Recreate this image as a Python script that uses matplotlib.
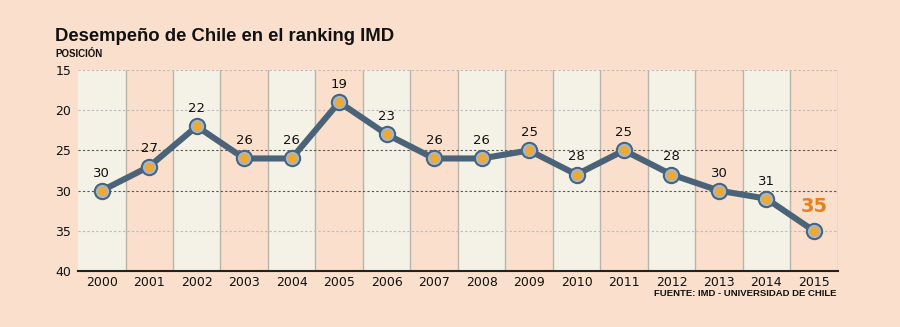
import numpy as np
import matplotlib.pyplot as plt

# Datos del ranking IMD (posición de Chile)
anios = ['2000', '2001', '2002', '2003', '2004', '2005', '2006', '2007',
         '2008', '2009', '2010', '2011', '2012', '2013', '2014', '2015']
posicion = [30, 27, 22, 26, 26, 19, 23, 26, 26, 25, 28, 25, 28, 30, 31, 35]
y_ticks = [15, 20, 25, 30, 35, 40]

fondo = '#f9dfcc'
crema = '#f4f2e7'
azul = '#4b6379'

fig = plt.figure(figsize=(9, 3.27), dpi=100, facecolor=fondo)
ax = fig.add_axes([0.0867, 0.171, 0.844, 0.615], facecolor=fondo)

x = np.arange(len(anios))

# Bandas alternas y separadores verticales
for i in x:
    if i % 2 == 0:
        ax.axvspan(i - 0.5, i + 0.5, color=crema, zorder=0, lw=0)
    ax.axvline(i + 0.5, color='#b9b4ab', lw=1, zorder=1)

# Lineas de grilla punteadas
for t in y_ticks[:-1]:
    oscura = t in (25, 30)
    ax.axhline(t, color='#555555' if oscura else '#bbbbbb', lw=0.8,
               ls=(0, (2, 2)), zorder=1)

# Linea y marcadores
ax.plot(x, posicion, color=azul, lw=4.4, zorder=3, solid_joinstyle='round')
ax.plot(x, posicion, 'o', ms=11.5, color=azul, zorder=4)
ax.plot(x, posicion, 'o', ms=8.5, color='#a3b8cd', zorder=5)
ax.plot(x, posicion, 'o', ms=5.5, color='#f0a92c', zorder=6)

# Etiquetas de valores
for xi, v in zip(x[:-1], posicion[:-1]):
    ax.annotate(str(v), (xi, v), xytext=(0, 8), textcoords='offset points',
                ha='center', va='bottom', fontsize=9.5, color='#111111', zorder=7)
ax.annotate(str(posicion[-1]), (x[-1], posicion[-1]), xytext=(0, 11),
            textcoords='offset points', ha='center', va='bottom',
            fontsize=14, fontweight='bold', color='#e8801f', zorder=7)

ax.set_xlim(-0.5, len(anios) - 0.5)
ax.set_ylim(40, 15)
ax.set_yticks(y_ticks)
ax.set_xticks(x)
ax.set_xticklabels(anios)
ax.tick_params(axis='both', length=0, labelsize=9, colors='#111111')
ax.tick_params(axis='x', pad=3.5)
ax.tick_params(axis='y', pad=5)

for lado in ['top', 'left', 'right']:
    ax.spines[lado].set_visible(False)
ax.spines['bottom'].set_color('#222222')
ax.spines['bottom'].set_linewidth(1.5)

fig.text(0.061, 0.887, 'Desempeño de Chile en el ranking IMD', fontsize=13.3,
         fontweight='bold', color='#111111', va='center',
         family=['Liberation Sans', 'DejaVu Sans'])
fig.text(0.061, 0.835, 'POSICIÓN', fontsize=7, fontweight='bold',
         color='#111111', va='center', family=['Liberation Sans', 'DejaVu Sans'])
fig.text(0.93, 0.103, 'FUENTE: IMD - UNIVERSIDAD DE CHILE', fontsize=6.8,
         fontweight='bold', color='#111111', ha='right', va='center',
         family=['Liberation Sans', 'DejaVu Sans'])

fig.savefig('out.png', dpi=100, facecolor=fondo)
